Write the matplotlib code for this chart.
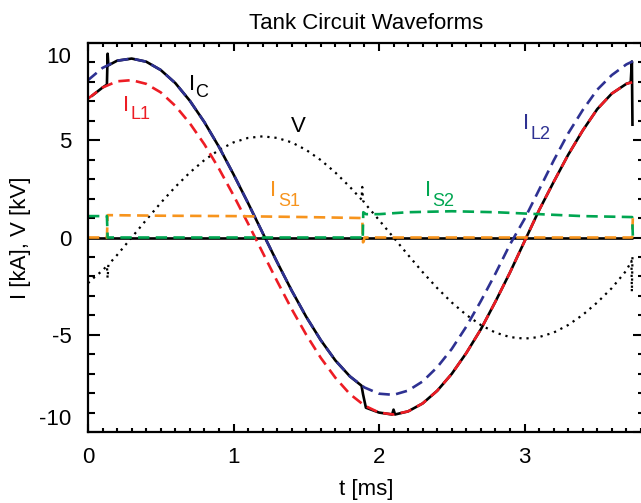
import matplotlib
matplotlib.use("Agg")
import matplotlib.pyplot as plt
from matplotlib.ticker import MultipleLocator
from matplotlib.transforms import ScaledTranslation

plt.rcParams['font.family'] = ['Liberation Sans', 'DejaVu Sans']
plt.rcParams['mathtext.fontset'] = 'custom'
plt.rcParams['mathtext.rm'] = 'Liberation Sans'

# ---------------- data ----------------
grid = [0.0, 0.1, 0.2, 0.3, 0.4, 0.5, 0.6, 0.7, 0.8, 0.9, 1.0, 1.1, 1.2, 1.3,
        1.4, 1.5, 1.6, 1.7, 1.8, 1.9, 2.0, 2.1, 2.2, 2.3, 2.4, 2.5, 2.6, 2.7,
        2.8, 2.9, 3.0, 3.1, 3.2, 3.3, 3.4, 3.5, 3.6, 3.7]

t_L2 = grid + [3.745]
i_L2 = [8.09, 8.72, 9.09, 9.20, 9.04, 8.61, 7.94, 7.03, 5.93, 4.66, 3.25, 1.77,
        0.24, -1.27, -2.73, -4.08, -5.28, -6.32, -7.14, -7.71, -8.03, -8.09,
        -7.87, -7.40, -6.67, -5.73, -4.58, -3.27, -1.86, -0.36, 0.95, 2.45,
        3.95, 5.35, 6.55, 7.60, 8.35, 8.90, 9.06]

t_L1 = grid + [3.74]
i_L1 = [7.14, 7.71, 8.03, 8.09, 7.90, 7.46, 6.77, 5.87, 4.79, 3.54, 2.17, 0.72,
        -0.77, -2.25, -3.68, -5.00, -6.19, -7.21, -8.05, -8.64, -9.00, -9.10,
        -8.94, -8.53, -7.88, -7.01, -5.94, -4.72, -3.30, -1.80, -0.20, 1.40,
        2.85, 4.25, 5.50, 6.60, 7.40, 7.90, 7.98]

t_C = [0.03, 0.1, 0.13, 0.135, 0.14, 0.2, 0.3, 0.4, 0.5, 0.6, 0.7, 0.8, 0.9,
       1.0, 1.1, 1.2, 1.3, 1.4, 1.5, 1.6, 1.7, 1.8, 1.88, 1.89, 1.91, 2.0,
       2.09, 2.1, 2.11, 2.2, 2.3, 2.4, 2.5, 2.6, 2.7, 2.8, 2.9, 3.0, 3.1, 3.2,
       3.3, 3.4, 3.5, 3.6, 3.7, 3.73, 3.738, 3.742]
i_C = [7.3, 7.71, 7.86, 9.45, 8.85, 9.09, 9.20, 9.04, 8.61, 7.94, 7.03, 5.93,
       4.66, 3.25, 1.77, 0.24, -1.27, -2.73, -4.08, -5.28, -6.32, -7.14, -7.62,
       -8.05, -8.75, -9.00, -9.10, -8.85, -9.10, -8.94, -8.53, -7.88, -7.01,
       -5.94, -4.72, -3.30, -1.80, -0.20, 1.40, 2.85, 4.25, 5.50, 6.60, 7.40,
       7.90, 7.98, 9.05, 5.8]

t_V = [0.0, 0.05, 0.1, 0.13, 0.135, 0.14, 0.2, 0.3, 0.4, 0.5, 0.6, 0.7, 0.8,
       0.9, 1.0, 1.1, 1.2, 1.3, 1.4, 1.5, 1.6, 1.7, 1.8, 1.88, 1.885, 1.89,
       1.9, 2.0, 2.1, 2.2, 2.3, 2.4, 2.5, 2.6, 2.7, 2.8, 2.9, 3.0, 3.1, 3.2,
       3.3, 3.4, 3.5, 3.6, 3.7, 3.735, 3.738, 3.742]
v_V = [-2.35, -2.0, -1.7, -1.45, -2.1, -1.4, -0.9, 0.0, 0.90, 1.78, 2.60, 3.34,
       3.98, 4.50, 4.89, 5.12, 5.20, 5.12, 4.89, 4.50, 3.98, 3.34, 2.60, 1.95,
       2.6, 1.9, 1.78, 0.90, 0.0, -0.90, -1.78, -2.60, -3.34, -3.98, -4.50,
       -4.89, -5.12, -5.20, -5.12, -4.89, -4.50, -3.98, -3.34, -2.60, -1.70,
       -1.2, -2.8, -1.0]

t_S1 = [0.0, 0.13, 0.135, 0.5, 1.0, 1.5, 1.885, 1.89, 1.895, 1.9, 3.74, 3.745]
i_S1 = [0.0, 0.0, 1.15, 1.12, 1.10, 1.05, 1.0, -0.25, -0.2, 0.0, 0.0, 1.1]

t_S2 = [0.0, 0.13, 0.135, 1.885, 1.888, 1.892, 1.91, 2.0, 2.2, 2.5, 2.8, 3.1,
        3.4, 3.74, 3.745]
i_S2 = [1.1, 1.1, 0.0, 0.0, -0.1, 1.3, 1.2, 1.2, 1.3, 1.35, 1.3, 1.2, 1.1,
        1.05, 0.0]

t_zero = [0.0, 3.745]
i_zero = [0.0, 0.0]

x_ticks = [0, 1, 2, 3]
x_ticklabels = ['0', '1', '2', '3']
y_ticks = [-10, -5, 0, 5, 10]
y_ticklabels = ['-10', '-5', '0', '5', '10']

NAVY = '#2E3192'
RED = '#ED1C24'
ORANGE = '#F7941D'
GREEN = '#00A651'

# ---------------- figure ----------------
W, H = 641, 503
fig = plt.figure(figsize=(W / 100, H / 100), dpi=100)
ax = fig.add_axes([88 / W, 1 - 432 / H, (645 - 88) / W, (432 - 43) / H])

lw = 1.9
dash = (0, (4.3, 2.4))
ax.plot(t_zero, i_zero, color='black', lw=lw, solid_capstyle='butt')
ax.plot(t_V, v_V, color='black', lw=1.6, linestyle=(0, (1, 2.2)))
ax.plot(t_C, i_C, color='black', lw=lw)
ax.plot(t_L1, i_L1, color=RED, lw=lw, linestyle=dash)
ax.plot(t_L2, i_L2, color=NAVY, lw=lw, linestyle=dash)
ax.plot(t_S1, i_S1, color=ORANGE, lw=lw, linestyle=dash)
ax.plot(t_S2, i_S2, color=GREEN, lw=lw, linestyle=dash)

ax.set_xlim(0, (645 - 88) / 145.5)
ax.set_ylim(-10, 10)

ax.set_xticks(x_ticks, x_ticklabels)
ax.set_yticks(y_ticks, y_ticklabels)
ax.xaxis.set_minor_locator(MultipleLocator(0.1))
ax.yaxis.set_minor_locator(MultipleLocator(1))
ax.tick_params(which='both', direction='in', top=True, right=True,
               width=1.5, labelsize=16, color='black')
ax.tick_params(axis='x', which='major', length=5.6, pad=11)
ax.tick_params(axis='x', which='minor', length=3.0)
ax.tick_params(axis='y', which='major', length=8.6, pad=12)
ax.tick_params(axis='y', which='minor', length=5.0)
for sp in ax.spines.values():
    sp.set_linewidth(1.6)

for tk in ax.yaxis.get_major_ticks():
    txt = tk.label1.get_text()
    if txt == '10':
        tk.label1.set_verticalalignment('top')
        tk.label1.set_transform(tk.label1.get_transform() +
                                ScaledTranslation(0, -4 / 100, fig.dpi_scale_trans))
    elif txt == '-10':
        tk.label1.set_verticalalignment('bottom')
        tk.label1.set_transform(tk.label1.get_transform() +
                                ScaledTranslation(0, 2 / 100, fig.dpi_scale_trans))

ax.set_title('Tank Circuit Waveforms', fontsize=16, pad=10)
ax.set_xlabel('t [ms]', fontsize=16, labelpad=8)
ax.set_ylabel('I [kA], V [kV]', fontsize=16, labelpad=6)


def curve_label(x, y, main, sub, color, dx_px, dy_px):
    ax.text(x, y, main, color=color, fontsize=16, ha='left', va='baseline')
    if sub:
        ax.annotate(sub, xy=(x, y), xytext=(dx_px * 0.72, -dy_px * 0.72),
                    textcoords='offset points', color=color, fontsize=13,
                    ha='left', va='baseline')


curve_label(0.694, 7.57, 'I', 'C', 'black', 6, 7)
curve_label(0.241, 6.49, 'I', 'L1', RED, 7, 8)
curve_label(1.395, 5.41, 'V', '', 'black', 0, 0)
curve_label(2.990, 5.57, 'I', 'L2', NAVY, 7, 10)
curve_label(1.251, 2.12, 'I', 'S1', ORANGE, 8, 10)
curve_label(2.316, 2.12, 'I', 'S2', GREEN, 7, 10)

fig.savefig('out.png', dpi=100)
